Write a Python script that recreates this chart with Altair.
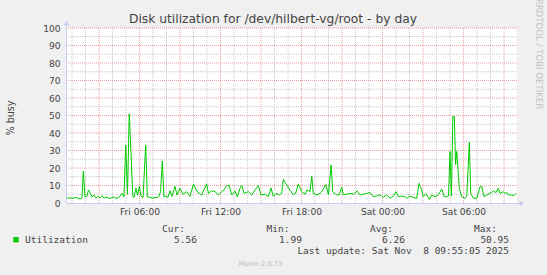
import altair as alt
import pandas as pd

# ---- data (hours since Fri 00:00, % busy) ----
hours = [0.63, 0.85, 1.07, 1.30, 1.44, 1.59, 1.74, 1.84, 1.96, 2.11,
         2.22, 2.33, 2.48, 2.63, 2.78, 2.93, 3.07, 3.22, 3.37, 3.52,
         3.67, 3.81, 3.96, 4.11, 4.26, 4.41, 4.56, 4.70, 4.85, 4.98,
         5.11, 5.24, 5.37, 5.50, 5.59, 5.74, 5.85, 5.99, 6.11, 6.26,
         6.46, 6.58, 6.70, 6.85, 7.00, 7.15, 7.30, 7.44, 7.56, 7.69,
         7.81, 7.96, 8.11, 8.26, 8.41, 8.63, 8.78, 9.00, 9.22, 9.48,
         9.74, 10.00, 10.26, 10.61, 10.73, 10.98, 11.10, 11.35, 11.59, 11.84,
         12.01, 12.26, 12.46, 12.65, 12.83, 13.07, 13.24, 13.44, 13.57, 13.74,
         14.06, 14.31, 14.56, 14.80, 15.00, 15.30, 15.54, 15.74, 15.91, 16.11,
         16.36, 16.53, 16.65, 16.85, 17.15, 17.39, 17.57, 17.76, 18.01, 18.26,
         18.39, 18.63, 18.76, 18.87, 19.13, 19.37, 19.50, 19.81, 19.99, 20.19,
         20.31, 20.61, 20.78, 20.98, 21.10, 21.35, 21.59, 21.84, 22.13, 22.33,
         22.58, 22.83, 23.07, 23.32, 23.57, 23.81, 24.06, 24.31, 24.56, 24.80,
         25.00, 25.17, 25.42, 25.67, 25.79, 26.04, 26.28, 26.53, 26.70, 26.85,
         27.02, 27.22, 27.47, 27.64, 27.89, 28.13, 28.39, 28.56, 28.76, 28.89,
         29.00, 29.10, 29.21, 29.32, 29.41, 29.50, 29.69, 29.87, 30.11, 30.24,
         30.43, 30.53, 30.73, 30.98, 31.22, 31.35, 31.52, 31.72, 31.96, 32.21,
         32.41, 32.58, 32.70, 32.95, 33.07, 33.20, 33.32, 33.57, 33.69, 33.87]
busy = [2.8, 2.9, 2.7, 3.2, 2.6, 2.3, 3.0, 18.3, 3.5, 4.0,
        7.5, 6.0, 3.5, 4.5, 2.8, 3.8, 3.0, 4.2, 2.8, 3.5,
        3.0, 2.5, 3.2, 3.5, 2.6, 3.0, 4.0, 5.5, 3.5, 33.0,
        5.0, 50.95, 28.5, 4.0, 3.0, 8.5, 4.5, 9.5, 4.0, 3.0,
        33.0, 3.5, 3.5, 3.0, 2.8, 3.2, 3.0, 4.0, 6.5, 24.0,
        3.5, 4.0, 3.2, 7.0, 3.8, 9.5, 4.5, 8.5, 5.0, 6.5,
        3.8, 10.8, 6.5, 4.5, 6.8, 11.0, 5.5, 7.0, 6.5, 4.6,
        5.8, 7.5, 10.0, 10.0, 4.6, 6.8, 3.6, 8.3, 10.0, 5.5,
        6.5, 4.6, 7.5, 10.0, 4.6, 5.0, 3.6, 8.6, 3.8, 5.5,
        4.6, 5.5, 13.5, 11.0, 7.2, 4.6, 5.5, 10.9, 6.5, 5.0,
        7.4, 6.5, 15.3, 5.5, 4.6, 5.5, 6.5, 10.5, 4.6, 21.7,
        6.5, 4.6, 4.6, 9.0, 4.6, 5.0, 5.5, 5.0, 6.8, 4.6,
        5.0, 5.5, 6.0, 3.6, 4.0, 4.6, 3.2, 4.6, 2.7, 4.0,
        6.5, 3.6, 4.0, 3.6, 2.7, 4.0, 3.2, 2.7, 11.2, 8.4,
        3.6, 5.2, 1.99, 4.6, 3.6, 4.6, 8.0, 3.6, 3.6, 4.0,
        29.5, 4.0, 49.5, 49.5, 22.0, 29.5, 8.4, 3.6, 2.7, 3.6,
        34.7, 5.5, 2.7, 2.7, 9.3, 9.3, 3.6, 4.6, 5.5, 6.8,
        6.0, 8.4, 5.5, 6.5, 5.5, 6.0, 4.6, 4.6, 4.0, 5.56]

x_tick_values = [6, 12, 18, 24, 30]
x_tick_labels = ["Fri 06:00", "Fri 12:00", "Fri 18:00", "Sat 00:00", "Sat 06:00"]
y_tick_values = [0, 10, 20, 30, 40, 50, 60, 70, 80, 90, 100]
x_minor_grid = [1, 2, 4, 5, 7, 8, 10, 11, 13, 14, 16, 17, 19, 20, 22, 23,
                25, 26, 28, 29, 31, 32]
x_major_grid = [3, 6, 9, 12, 15, 18, 21, 24, 27, 30, 33]
y_minor_grid = [5, 15, 25, 35, 45, 55, 65, 75, 85, 95]
y_major_grid = [10, 20, 30, 40, 50, 60, 70, 80, 90, 100]

title_text = "Disk utilization for /dev/hilbert-vg/root - by day"
y_title = "% busy"
series_name = "Utilization"
stat_headers = ["Cur:", "Min:", "Avg:", "Max:"]
stat_values = ["5.56", "1.99", "6.26", "50.95"]
last_update = "Last update: Sat Nov\u00a0 8 09:55:05 2025"
munin_version = "Munin 2.0.73"
watermark = "RRDTOOL / TOBI OETIKER"

# ---- layout ----
W, H = 450, 175
OX, OY = 67, 28
FONT = "DejaVu Sans"
MONO = "DejaVu Sans Mono"
TXT = "#444444"
GREEN = "#00CC00"
AXIS_COL = "#C8CCF2"

xs = alt.Scale(domain=[0.63, 33.96], nice=False, zero=False)
ys = alt.Scale(domain=[0, 100], nice=False, zero=True)

label_expr = " : ".join(
    f"datum.value == {v} ? '{l}'" for v, l in zip(x_tick_values, x_tick_labels)
) + " : ''"

X_AXIS = alt.Axis(
    values=x_tick_values, labelExpr=label_expr, grid=False, ticks=False,
    domain=False, labelPadding=4, labelFont=FONT, labelFontSize=9.1,
    labelColor=TXT, title=None, labelFlush=False)
Y_AXIS = alt.Axis(
    values=y_tick_values, grid=False, ticks=False, domain=False,
    labelPadding=7, labelFont=FONT, labelFontSize=9.1, labelColor=TXT,
    title=y_title, titleX=-56.5, titleY=89.5, titleFont=FONT,
    titleFontSize=9.6, titleFontWeight="normal", titleColor=TXT,
    titleAlign="center", titleBaseline="middle", titleAngle=270)

df = pd.DataFrame({"h": hours, "v": busy})


def vgrid(vals, color, opacity):
    return alt.Chart(pd.DataFrame({"h": vals})).mark_rule(
        color=color, strokeDash=[1, 1], strokeWidth=1, opacity=opacity
    ).encode(x=alt.X("h:Q", scale=xs, axis=X_AXIS))


def hgrid(vals, color, opacity):
    return alt.Chart(pd.DataFrame({"v": vals})).mark_rule(
        color=color, strokeDash=[1, 1], strokeWidth=1, opacity=opacity
    ).encode(y=alt.Y("v:Q", scale=ys, axis=Y_AXIS))


def txt(s, x, y, align="left", font=MONO, size=9.5, color=TXT, angle=0,
        baseline="middle"):
    return alt.Chart(pd.DataFrame({"t": [s]})).mark_text(
        align=align, baseline=baseline, font=font, fontSize=size,
        color=color, angle=angle
    ).encode(text="t:N", x=alt.value(x - OX), y=alt.value(y - OY))


line = alt.Chart(df).mark_line(color=GREEN, strokeWidth=1).encode(
    x=alt.X("h:Q", scale=xs, axis=X_AXIS),
    y=alt.Y("v:Q", scale=ys, axis=Y_AXIS),
)

# axis lines with arrows
yaxis_line = alt.Chart(pd.DataFrame({"a": [0]})).mark_rule(
    color=AXIS_COL, strokeWidth=1).encode(
    x=alt.value(-0.5), y=alt.value(-4), y2=alt.value(H))
xaxis_line = alt.Chart(pd.DataFrame({"a": [0]})).mark_rule(
    color=AXIS_COL, strokeWidth=1).encode(
    x=alt.value(-0.5), x2=alt.value(W + 3), y=alt.value(H + 0.5))
arrow_up = alt.Chart(pd.DataFrame({"a": [0]})).mark_point(
    shape="triangle-up", filled=True, color=AXIS_COL, size=30, opacity=1).encode(
    x=alt.value(-0.5), y=alt.value(-5))
arrow_right = alt.Chart(pd.DataFrame({"a": [0]})).mark_point(
    shape="triangle-right", filled=True, color=AXIS_COL, size=30, opacity=1).encode(
    x=alt.value(W + 5), y=alt.value(H + 0.5))

swatch = alt.Chart(pd.DataFrame({"a": [0]})).mark_rect(color=GREEN).encode(
    x=alt.value(13.3 - OX), x2=alt.value(18.7 - OX),
    y=alt.value(237 - OY), y2=alt.value(242.3 - OY))

header_right = [185, 289.5, 393, 497]
value_right = [197, 302, 405, 509]

layers = [
    vgrid(x_minor_grid, "#9a9a9a", 0.55),
    hgrid(y_minor_grid, "#9a9a9a", 0.55),
    vgrid(x_major_grid, "#e06060", 0.6),
    hgrid(y_major_grid, "#e06060", 0.6),
    line,
    yaxis_line, xaxis_line, arrow_up, arrow_right,
    txt(title_text, 273, 18.5, align="center", font=FONT, size=12.3, color="#444444"),
    txt(watermark, 538.5, 54, align="center", font=FONT, size=8.6, color="#c4c4c4", angle=90),
    swatch,
    txt(series_name, 25, 239.5),
]
for s, r in zip(stat_headers, header_right):
    layers.append(txt(s, r, 228.5, align="right"))
for s, r in zip(stat_values, value_right):
    layers.append(txt(s, r, 239.5, align="right"))
layers.append(txt(last_update, 509, 251, align="right"))
layers.append(txt(munin_version, 260.5, 264, align="center", font=FONT, size=6.7, color="#b8b8b8"))

chart = alt.layer(*layers).properties(
    width=W, height=H,
    padding={"left": OX, "top": OY, "right": 547 - OX - W, "bottom": 275 - OY - H},
    autosize=alt.AutoSizeParams(type="none"),
    background="#F0F0F0",
).configure_view(fill="white", stroke=None)

chart.save("out.html", embed_options={"renderer": "svg", "actions": False})
